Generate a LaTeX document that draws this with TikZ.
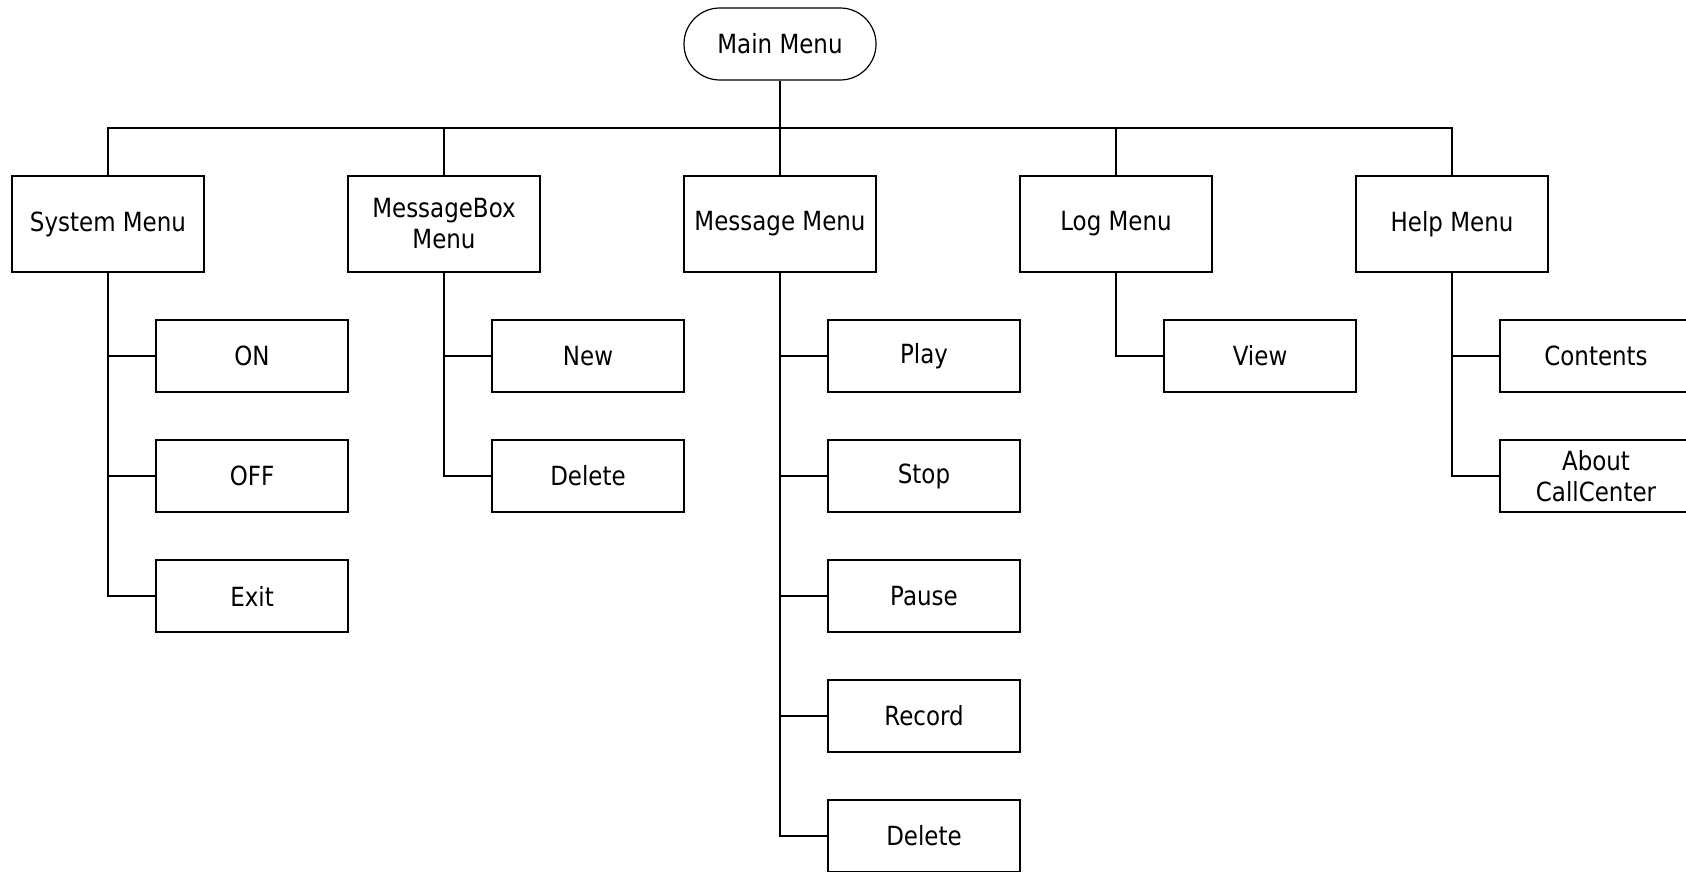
\documentclass[tikz,border=0pt]{standalone}
\usepackage{fontspec}
\setmainfont{DejaVu Sans}[FakeStretch=0.87]
\begin{document}
\begin{tikzpicture}[x=0.5pt,y=-0.5pt,
  txt/.style={font=\fontsize{13.2pt}{15.5pt}\selectfont},
  menubox/.style={txt, draw, line width=0.6pt, minimum width=96pt, minimum height=48pt,
                  inner sep=0pt, align=center, fill=white},
  itembox/.style={menubox, minimum height=36pt},
  rootbox/.style={menubox, minimum height=36pt, rounded corners=17.9pt},
  wire/.style={line width=0.6pt}]
\useasboundingbox (0,0) rectangle (1686,872);

% root
\node[rootbox] (main) at (780,44) {Main Menu};

% first level
\node[menubox] (sys)  at (108,224)  {System Menu};
\node[menubox] (mbox) at (444,224)  {MessageBox\\Menu};
\node[menubox] (msg)  at (780,224)  {Message Menu};
\node[menubox] (log)  at (1116,224) {Log Menu};
\node[menubox] (help) at (1452,224) {Help Menu};

% system menu items
\node[itembox] (on)   at (252,356) {ON};
\node[itembox] (off)  at (252,476) {OFF};
\node[itembox] (exit) at (252,596) {Exit};

% messagebox menu items
\node[itembox] (new)  at (588,356) {New};
\node[itembox] (mdel) at (588,476) {Delete};

% message menu items
\node[itembox] (play)  at (924,356) {Play};
\node[itembox] (stop)  at (924,476) {Stop};
\node[itembox] (pause) at (924,596) {Pause};
\node[itembox] (rec)   at (924,716) {Record};
\node[itembox] (del)   at (924,836) {Delete};

% log menu items
\node[itembox] (view) at (1260,356) {View};

% help menu items
\node[itembox] (cont)  at (1596,356) {Contents};
\node[itembox] (about) at (1596,476) {About\\CallCenter};

% bus from root to first level
\coordinate (bus) at (780,128);
\draw[wire] (main.south) -- (bus);
\draw[wire] (sys.north) -- (sys.north |- bus) -- (help.north |- bus) -- (help.north);
\foreach \n in {mbox,msg,log}
  \draw[wire] (\n.north) -- (\n.north |- bus);

% item connectors
\foreach \p/\c in {sys/on,sys/off,sys/exit,mbox/new,mbox/mdel,
                   msg/play,msg/stop,msg/pause,msg/rec,msg/del,
                   log/view,help/cont,help/about}
  \draw[wire] (\p.south) |- (\c.west);
\end{tikzpicture}
\end{document}
